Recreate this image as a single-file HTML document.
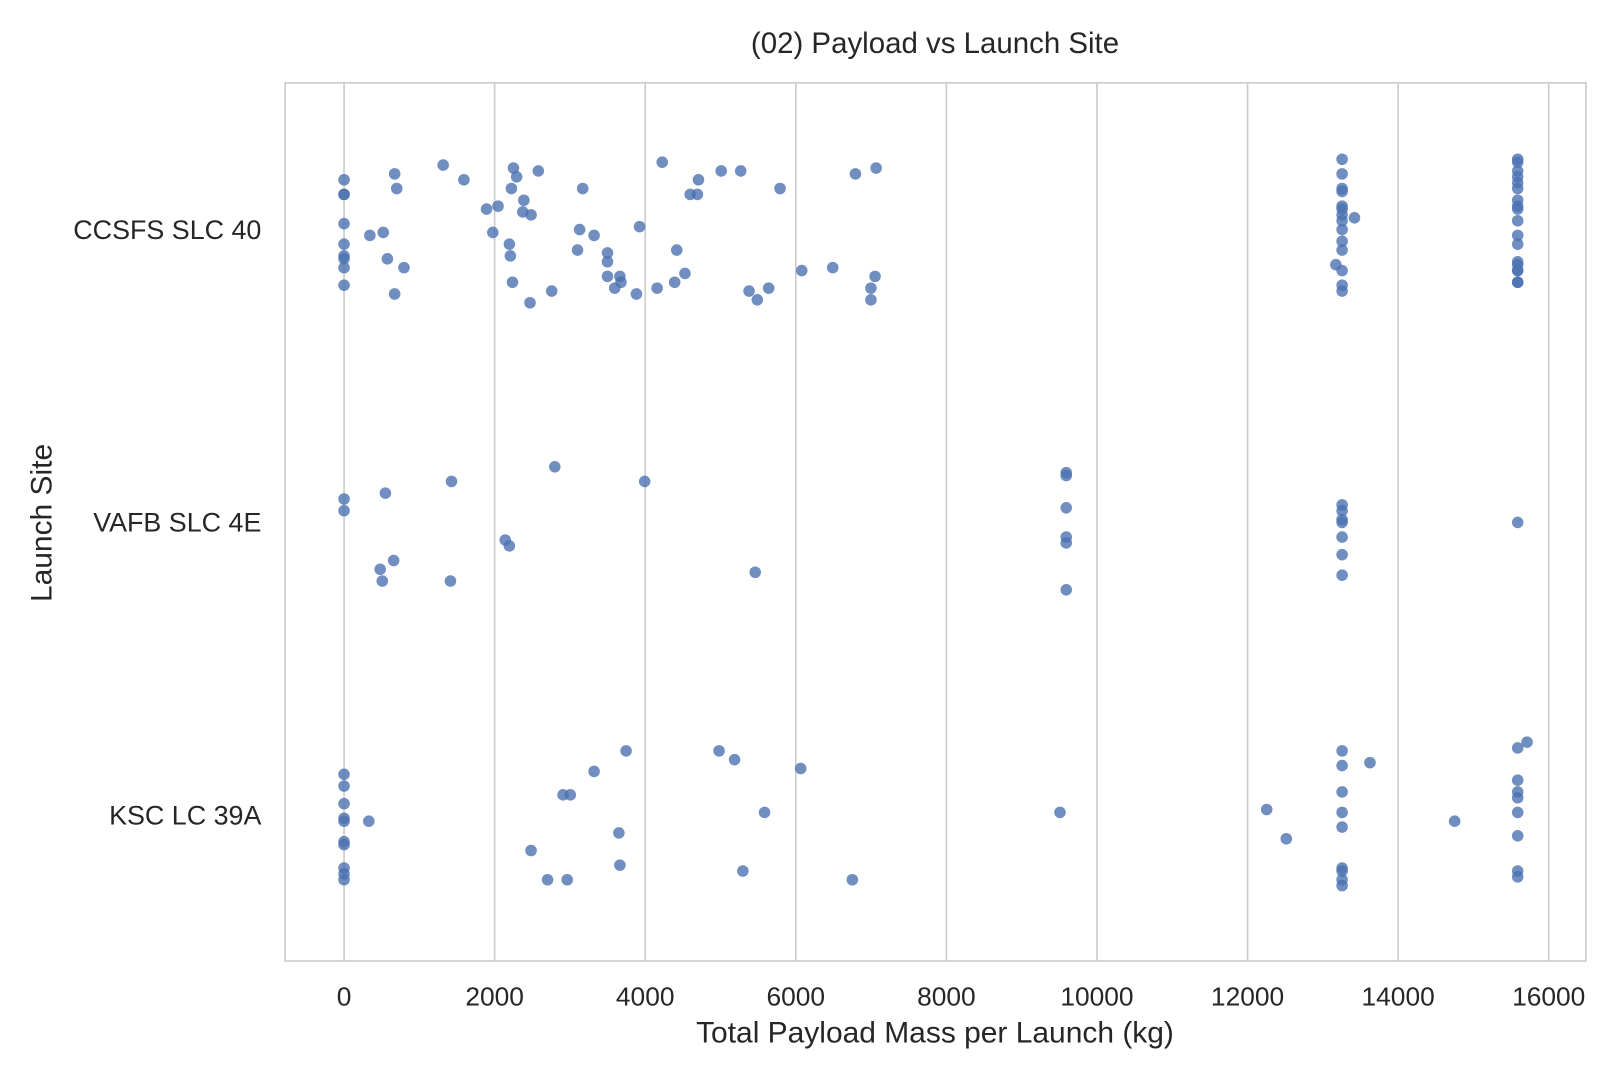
<!DOCTYPE html>
<html><head><meta charset="utf-8"><style>
html,body{margin:0;padding:0;background:#fff;}
svg{display:block;font-family:"Liberation Sans",sans-serif;}
</style></head><body>
<svg id="chart" width="1620" height="1080" viewBox="0 0 1568 1045" xmlns="http://www.w3.org/2000/svg">
<rect x="0" y="0" width="1568" height="1045" fill="#fff"/>
<g id="grid"></g>
<g id="points"></g>
<rect x="276" y="80" width="1259" height="850" fill="none" stroke="#cccccc" stroke-width="1.6"/>
<g id="xticks"></g>
<g id="yticks"></g>
<text x="905" y="51" font-size="28.5" fill="#262626" text-anchor="middle">(02) Payload vs Launch Site</text>
<text x="905" y="1009" font-size="29" fill="#262626" text-anchor="middle">Total Payload Mass per Launch (kg)</text>
<text x="0" y="0" font-size="29" fill="#262626" text-anchor="middle" transform="translate(50,506) rotate(-90)">Launch Site</text>
</svg>
<script>
const categories = ["CCSFS SLC 40","VAFB SLC 4E","KSC LC 39A"];
const xTicks = [0,2000,4000,6000,8000,10000,12000,14000,16000];
// [payload kg, jitter (category units)]
const ccsfs = [[0,-.17],[0,-.12],[0,-.12],[0,-.02],[0,.05],[0,.09],[0,.10],[0,.13],[0,.19],[672,-.19],[700,-.14],[343,.02],[521,.01],[576,.10],[796,.13],[672,.22],[1317,-.22],[1592,-.17],[1893,-.07],[2045,-.08],[1976,.01],[2250,-.21],[2292,-.18],[2223,-.14],[2388,-.10],[2374,-.06],[2484,-.05],[2196,.05],[2209,.09],[2237,.18],[2470,.25],[2580,-.20],[2758,.21],[3170,-.14],[3129,0],[3321,.02],[3101,.07],[3499,.08],[3499,.11],[3499,.16],[3664,.16],[3678,.18],[3595,.20],[3883,.22],[3925,-.01],[4158,.20],[4226,-.23],[4419,.07],[4391,.18],[4528,.15],[4597,-.12],[4693,-.12],[4707,-.17],[5009,-.20],[5269,-.20],[5379,.21],[5489,.24],[5640,.20],[5791,-.14],[6079,.14],[6491,.13],[6792,-.19],[7067,-.21],[7053,.16],[6998,.20],[6998,.24],
[13256,-.24],[13256,-.19],[13256,-.14],[13256,-.13],[13256,-.08],[13256,-.07],[13256,-.05],[13256,-.03],[13256,0],[13256,.04],[13256,.07],[13256,.14],[13256,.19],[13256,.21],[13173,.12],[13420,-.04],
[15588,-.24],[15588,-.23],[15588,-.20],[15588,-.18],[15588,-.16],[15588,-.14],[15588,-.10],[15588,-.08],[15588,-.07],[15588,-.03],[15588,.02],[15588,.05],[15588,.11],[15588,.12],[15588,.14],[15588,.14],[15588,.18],[15588,.18]];
const vafb = [[0,-.08],[0,-.04],[549,-.10],[1427,-.14],[2141,.06],[2196,.08],[480,.16],[508,.20],[659,.13],[1413,.20],[2799,-.19],[3993,-.14],[5461,.17],
[9592,-.17],[9592,-.16],[9592,-.05],[9592,.05],[9592,.07],[9592,.23],
[13256,-.06],[13256,-.04],[13256,-.01],[13256,0],[13256,.05],[13256,.11],[13256,.18],[15588,0]];
const ksc = [[0,-.14],[0,-.10],[0,-.04],[0,.01],[0,.02],[0,.09],[0,.10],[0,.18],[0,.20],[0,.22],[329,.02],[2484,.12],[2703,.22],[2964,.22],[2909,-.07],[3005,-.07],[3321,-.15],[3650,.06],[3664,.17],[3746,-.22],[4981,-.22],[5187,-.19],[5297,.19],[5585,-.01],[6065,-.16],[6751,.22],[9509,-.01],[12254,-.02],[12515,.08],
[13256,-.22],[13256,-.17],[13256,-.08],[13256,-.01],[13256,.04],[13256,.18],[13256,.19],[13256,.22],[13256,.24],[13626,-.18],[14751,.02],
[15588,-.23],[15712,-.25],[15588,-.12],[15588,-.08],[15588,-.06],[15588,-.01],[15588,.07],[15588,.19],[15588,.21]];
const series = [ccsfs, vafb, ksc];

const NS = "http://www.w3.org/2000/svg";
const xScale = v => 333 + v * (1499 - 333) / 16000;
const yScale = c => 222 + c * 283.5;
function mk(tag, attrs){const e=document.createElementNS(NS,tag);for(const k in attrs)e.setAttribute(k,attrs[k]);return e;}
const grid=document.getElementById('grid'), xt=document.getElementById('xticks'), yt=document.getElementById('yticks'), pts=document.getElementById('points');
xTicks.forEach(t=>{
  const l=mk('line',{x1:xScale(t),x2:xScale(t),y1:80,y2:930,stroke:'#cccccc','stroke-width':1.6});
  
  
  grid.appendChild(l);
  const tx=mk('text',{x:xScale(t),y:973,'font-size':25.5,fill:'#262626','text-anchor':'middle'});
  tx.textContent=t;
  
  
  xt.appendChild(tx);
});
categories.forEach((c,i)=>{
  const tx=mk('text',{x:253,y:yScale(i)+9,'font-size':26,fill:'#262626','text-anchor':'end'});
  tx.textContent=c;
  
  
  yt.appendChild(tx);
});
series.forEach((s,i)=>{
  s.forEach(p=>{
    const c=mk('circle',{cx:xScale(p[0]),cy:yScale(i+p[1]),r:5.6,fill:'#4c72b0','fill-opacity':0.8});
    
    
    pts.appendChild(c);
  });
});
</script>
</body></html>
